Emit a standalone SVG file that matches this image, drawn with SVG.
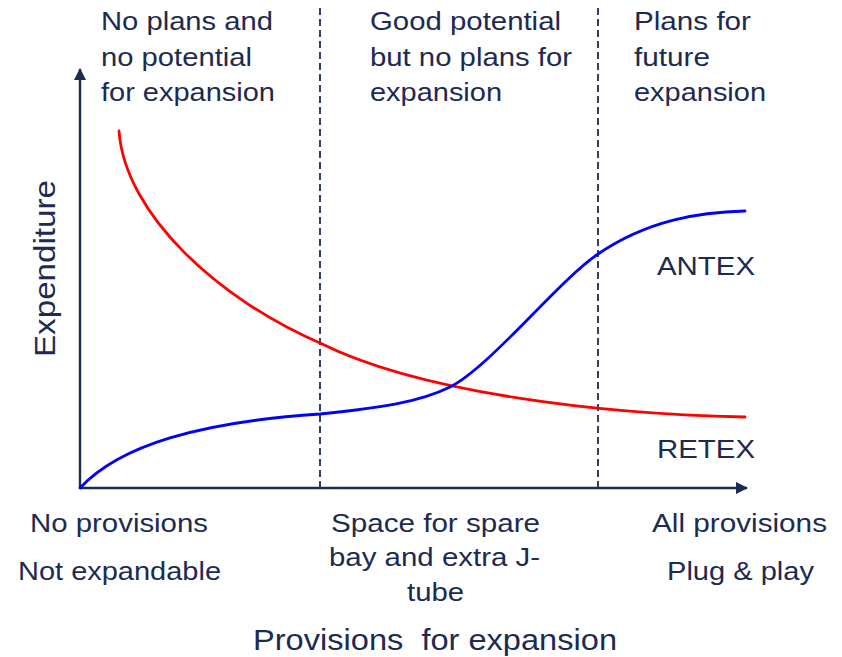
<svg xmlns="http://www.w3.org/2000/svg" width="842" height="657" viewBox="0 0 842 657">
  <style>
    text { font-family: "Liberation Sans", Arial, sans-serif; fill: #1d2a52; }
    .lbl { font-size: 25px; }
    .bot { font-size: 26px; }
    .axis { stroke: #1d2a52; stroke-width: 2.4; fill: none; }
    .div { stroke: #1d2a52; stroke-width: 1.8; stroke-dasharray: 7 4; fill: none; }
    .curve { stroke-width: 2.8; fill: none; stroke-linecap: round; }
  </style>
  <defs>
    <marker id="arrow" viewBox="0 0 12 12" refX="11" refY="6" markerWidth="13" markerHeight="12" markerUnits="userSpaceOnUse" orient="auto">
      <path d="M0,0 L12,6 L0,12 Z" fill="#1d2a52"/>
    </marker>
  </defs>
  <rect width="842" height="657" fill="#ffffff"/>

  <!-- axes, region dividers and cost curves -->
  <g id="connectors">
    <line class="axis" x1="80" y1="488" x2="80" y2="69" marker-end="url(#arrow)"/>
    <line class="axis" x1="80" y1="488" x2="747" y2="488" marker-end="url(#arrow)"/>
    <line class="div" x1="320" y1="8" x2="320" y2="488"/>
    <line class="div" x1="598" y1="8" x2="598" y2="488"/>
    <path id="retex-curve" class="curve" stroke="#ff0000" d="M119,131 C125,215 220,300 320,343 C420,393 600,414 745,417"/>
    <path id="antex-curve" class="curve" stroke="#0000ff" d="M80,488 C120,445 200,422 320,414 C380,408 420,402 450,387 C490,367 558,281 598,254 C648,220 700,212 745,211"/>
  </g>

  <g id="region-none">
    <text class="lbl" x="101" y="30" textLength="172" lengthAdjust="spacingAndGlyphs">No plans and</text>
    <text class="lbl" x="101" y="66" textLength="151" lengthAdjust="spacingAndGlyphs">no potential</text>
    <text class="lbl" x="101" y="101" textLength="174" lengthAdjust="spacingAndGlyphs">for expansion</text>
  </g>
  <g id="region-potential">
    <text class="lbl" x="370" y="30" textLength="191" lengthAdjust="spacingAndGlyphs">Good potential</text>
    <text class="lbl" x="370" y="66" textLength="202" lengthAdjust="spacingAndGlyphs">but no plans for</text>
    <text class="lbl" x="370" y="101" textLength="132" lengthAdjust="spacingAndGlyphs">expansion</text>
  </g>
  <g id="region-plans">
    <text class="lbl" x="634" y="30" textLength="117" lengthAdjust="spacingAndGlyphs">Plans for</text>
    <text class="lbl" x="634" y="66" textLength="76" lengthAdjust="spacingAndGlyphs">future</text>
    <text class="lbl" x="634" y="101" textLength="132" lengthAdjust="spacingAndGlyphs">expansion</text>
  </g>

  <g id="label-antex">
    <text class="bot" x="657" y="275" textLength="98" lengthAdjust="spacingAndGlyphs">ANTEX</text>
  </g>
  <g id="label-retex">
    <text class="bot" x="657" y="458" textLength="98" lengthAdjust="spacingAndGlyphs">RETEX</text>
  </g>

  <g id="axis-y-title">
    <text x="0" y="0" font-size="29" transform="translate(55,357) rotate(-90)" textLength="177" lengthAdjust="spacingAndGlyphs">Expenditure</text>
  </g>

  <g id="tick-none">
    <text class="bot" x="30" y="532" textLength="178" lengthAdjust="spacingAndGlyphs">No provisions</text>
    <text class="bot" x="18" y="580" textLength="203" lengthAdjust="spacingAndGlyphs">Not expandable</text>
  </g>
  <g id="tick-space">
    <text class="bot" x="331" y="532" textLength="209" lengthAdjust="spacingAndGlyphs">Space for spare</text>
    <text class="bot" x="329" y="566" textLength="211" lengthAdjust="spacingAndGlyphs">bay and extra J-</text>
    <text class="bot" x="407" y="601" textLength="57" lengthAdjust="spacingAndGlyphs">tube</text>
  </g>
  <g id="tick-all">
    <text class="bot" x="652" y="532" textLength="175" lengthAdjust="spacingAndGlyphs">All provisions</text>
    <text class="bot" x="667" y="580" textLength="147" lengthAdjust="spacingAndGlyphs">Plug &amp; play</text>
  </g>

  <g id="axis-x-title">
    <text x="253" y="650" font-size="29" textLength="364" lengthAdjust="spacingAndGlyphs" xml:space="preserve">Provisions  for expansion</text>
  </g>
</svg>
